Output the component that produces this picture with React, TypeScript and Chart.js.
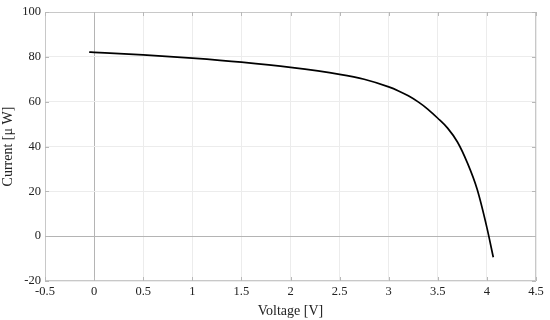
import React, { useEffect, useRef } from "react";
import { Chart, registerables } from "chart.js";

Chart.register(...registerables);

const voltage = [-0.05, 0, 0.5, 1.0, 1.5, 2.0, 2.5, 2.75, 3.0, 3.1, 3.2, 3.3, 3.4, 3.5, 3.6, 3.7, 3.8, 3.9, 4.0, 4.065];
const current = [82.1, 82.0, 80.9, 79.4, 77.6, 75.3, 72.2, 70.0, 66.6, 64.8, 62.6, 59.9, 56.6, 52.6, 48.2, 42.0, 32.8, 21.0, 3.8, -9.4];
const xTicks = [-0.5, 0, 0.5, 1, 1.5, 2, 2.5, 3, 3.5, 4, 4.5];
const yTicks = [-20, 0, 20, 40, 60, 80, 100];

const FONT = "'Liberation Serif', 'DejaVu Serif', serif";

const framePlugin = {
  id: "frame",
  afterDraw(chart: any) {
    const { ctx, chartArea } = chart;
    const { left, right, top, bottom } = chartArea;
    const xs = chart.scales.x;
    const ys = chart.scales.y;
    ctx.save();
    ctx.strokeStyle = "#c8c8c8";
    ctx.lineWidth = 1;
    ctx.strokeRect(left + 0.5, top + 0.5, right - left - 1, bottom - top - 1);
    ctx.strokeStyle = "#b8b8b8";
    ctx.beginPath();
    const L = 4;
    xTicks.forEach((v) => {
      const px = Math.round(xs.getPixelForValue(v)) + 0.5;
      ctx.moveTo(px, bottom);
      ctx.lineTo(px, bottom - L);
      ctx.moveTo(px, top);
      ctx.lineTo(px, top + L);
    });
    yTicks.forEach((v) => {
      const py = Math.round(ys.getPixelForValue(v)) + 0.5;
      ctx.moveTo(left, py);
      ctx.lineTo(left + L, py);
      ctx.moveTo(right, py);
      ctx.lineTo(right - L, py);
    });
    ctx.stroke();
    ctx.restore();
  },
};

export default function App() {
  const ref = useRef<HTMLCanvasElement | null>(null);
  useEffect(() => {
    if (!ref.current) return;
    const data = voltage.map((v, i) => ({ x: v, y: current[i] }));
    const chart = new Chart(ref.current, {
      type: "scatter",
      data: {
        datasets: [
          {
            data,
            showLine: true,
            borderColor: "#000000",
            borderWidth: 1.7,
            pointRadius: 0,
            cubicInterpolationMode: "monotone",
            fill: false,
          },
        ],
      },
      plugins: [framePlugin],
      options: {
        animation: false,
        responsive: true,
        maintainAspectRatio: false,
        layout: { padding: { top: 12, right: 14, left: 0, bottom: 0 } },
        plugins: { legend: { display: false }, tooltip: { enabled: false } },
        scales: {
          x: {
            type: "linear",
            min: -0.5,
            max: 4.5,
            afterBuildTicks: (s: any) => {
              s.ticks = xTicks.map((v) => ({ value: v }));
            },
            afterFit: (s: any) => {
              s.height = 39;
            },
            grid: {
              drawTicks: false,
              color: (c: any) => (c.tick && c.tick.value === 0 ? "#b4b4b4" : "#ececec"),
              lineWidth: 1,
            },
            border: { display: false },
            ticks: {
              padding: 3,
              color: "#222",
              font: { family: FONT, size: 12.5 },
              callback: (v: any) => String(v),
              maxRotation: 0,
              autoSkip: false,
            },
            title: {
              display: true,
              text: "Voltage [V]",
              color: "#222",
              font: { family: FONT, size: 14 },
              padding: { top: 0, bottom: 0 },
            },
          },
          y: {
            type: "linear",
            min: -20,
            max: 100,
            afterBuildTicks: (s: any) => {
              s.ticks = yTicks.map((v) => ({ value: v }));
            },
            afterFit: (s: any) => {
              s.width = 45;
            },
            grid: {
              drawTicks: false,
              color: (c: any) => (c.tick && c.tick.value === 0 ? "#b4b4b4" : "#ececec"),
              lineWidth: 1,
            },
            border: { display: false },
            ticks: {
              padding: 4,
              color: "#222",
              font: { family: FONT, size: 12.5 },
              callback: (v: any) => String(v),
              autoSkip: false,
            },
            title: {
              display: true,
              text: "Current [μ W]",
              color: "#222",
              font: { family: FONT, size: 14 },
              padding: { top: 0, bottom: 0 },
            },
          },
        },
      },
    });
    return () => chart.destroy();
  }, []);
  return (
    <div style={{ position: "fixed", left: 0, top: 0, width: 550, height: 320, background: "#fff" }}>
      <canvas ref={ref} />
    </div>
  );
}
